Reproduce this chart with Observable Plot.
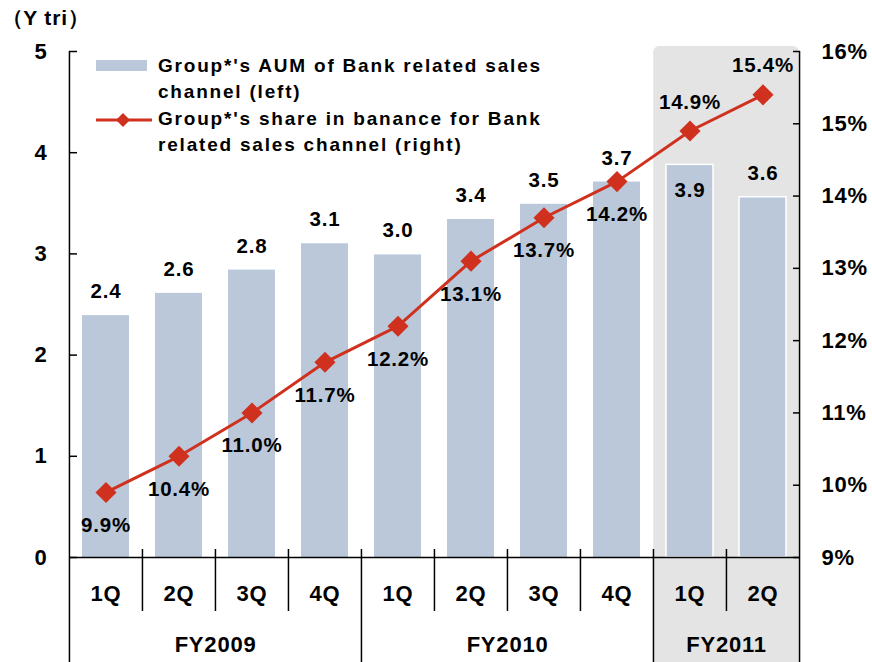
<!DOCTYPE html>
<html><head><meta charset="utf-8">
<script src="https://cdn.jsdelivr.net/npm/d3@7"></script>
<script src="https://cdn.jsdelivr.net/npm/@observablehq/plot@0.6"></script>
<style>
body{margin:0;background:#fff;}
#wrap{position:relative;width:872px;height:662px;font-family:"Liberation Sans",Arial,sans-serif;font-weight:bold;color:#000;}
#legend{position:absolute;left:96px;top:53px;font-size:19px;line-height:26.3px;letter-spacing:1.8px;}
.row{position:relative;padding-left:62px;white-space:nowrap;}
.sw{position:absolute;left:0;}
</style></head><body>
<div id="wrap"></div>
<script>
// ---- data ----
const fiscalYears = ["FY2009", "FY2010", "FY2011"];
const quarters = ["1Q", "2Q", "3Q", "4Q", "1Q", "2Q", "3Q", "4Q", "1Q", "2Q"];
const quarterYear = ["FY2009", "FY2009", "FY2009", "FY2009", "FY2010", "FY2010", "FY2010", "FY2010", "FY2011", "FY2011"];
const aum = [2.39, 2.61, 2.84, 3.10, 2.99, 3.34, 3.49, 3.71, 3.88, 3.56];
const aumLabels = ["2.4", "2.6", "2.8", "3.1", "3.0", "3.4", "3.5", "3.7", "3.9", "3.6"];
const aumLabelSide = ["above", "above", "above", "above", "above", "above", "above", "above", "inside", "above"];
const share = [9.9, 10.4, 11.0, 11.7, 12.2, 13.1, 13.7, 14.2, 14.9, 15.4];
const shareLabelSide = ["below", "below", "below", "below", "below", "below", "below", "below", "above", "above"];
const leftTicks = [0, 1, 2, 3, 4, 5];
const rightTicks = [9, 10, 11, 12, 13, 14, 15, 16];
const highlightYear = "FY2011";
const yUnitLabel = "（Y tri）";
const legendBar = "Group*'s AUM of Bank related sales channel (left)";
const legendLine = "Group*'s share in banance for Bank related sales channel (right)";

// ---- layout ----
const W = 872, H = 662, mL = 69, mR = 72, mT = 51, mB = 105;
const yMax = 5, rMin = 9, rMax = 16;
const n = quarters.length;
const step = (W - mL - mR) / n;
const pxU = (H - mT - mB) / yMax;
const toLeft = p => (p - rMin) / (rMax - rMin) * yMax;
const red = "#d0311f", barFill = "#bac8da", shade = "#e4e4e4";
const fs = 20.5;

const data = quarters.map((q, i) => ({
  key: quarterYear[i] + "-" + q, q, fy: quarterYear[i],
  aum: aum[i], aumLabel: aumLabels[i], aumSide: aumLabelSide[i],
  share: share[i], shareSide: shareLabelSide[i],
  first: i === 0 || quarterYear[i - 1] !== quarterYear[i]
}));
const keys = data.map(d => d.key);

const fyData = fiscalYears.map(fy => {
  const idx = data.map((d, i) => d.fy === fy ? i : -1).filter(i => i >= 0);
  const c = (idx[0] + idx[idx.length - 1]) / 2;
  return {fy, key: keys[Math.floor(c)], frac: c - Math.floor(c)};
});
const hiKeys = data.filter(d => d.fy === highlightYear).map(d => d.key);
const qSep = data.filter(d => !d.first);
const fySep = data.filter((d, i) => d.first && i > 0);

const marks = [
  // highlight shading
  Plot.barY([hiKeys[0]], {
    x: d => d, y1: -(mB + 12) / pxU, y2: yMax + 5 / pxU, fill: shade, rx: 6,
    insetLeft: -step * 0.175, insetRight: -(step * 0.175 + step * (hiKeys.length - 1))
  }),
  // bars
  Plot.barY(data.filter(d => d.fy !== highlightYear), {x: "key", y: "aum", fill: barFill}),
  Plot.barY(data.filter(d => d.fy === highlightYear), {x: "key", y: "aum", fill: barFill, stroke: "white", strokeWidth: 1.5}),
  // baseline
  Plot.ruleY([0], {stroke: "black", strokeWidth: 1.5}),
  // left and right axis lines
  Plot.ruleX([keys[0]], {x: d => d, dx: -step / 2, y1: yMax, y2: -mB / pxU, stroke: "black", strokeWidth: 1.5}),
  Plot.ruleX([keys[n - 1]], {x: d => d, dx: step / 2, y1: yMax, y2: -mB / pxU, stroke: "black", strokeWidth: 1.5}),
  // quarter separators
  Plot.ruleX(qSep, {x: "key", dx: -step / 2, y1: 8 / pxU, y2: -54 / pxU, stroke: "black", strokeWidth: 1.5}),
  // FY separators
  Plot.ruleX(fySep, {x: "key", dx: -step / 2, y1: 8 / pxU, y2: -mB / pxU, stroke: "black", strokeWidth: 1.5}),
  // ticks (inward)
  Plot.tickY(leftTicks, {y: d => d, insetRight: W - mL - mR - 8, stroke: "black", strokeWidth: 1.5}),
  Plot.tickY(rightTicks, {y: d => toLeft(d), insetLeft: W - mL - mR - 7, stroke: "black", strokeWidth: 1.5}),
  // axis labels
  Plot.axisY(leftTicks, {anchor: "left", tickSize: 0, tickPadding: 22, fontSize: 22, label: null, tickFormat: d => String(d)}),
  Plot.axisY(rightTicks.map(toLeft), {anchor: "right", tickSize: 0, tickPadding: 21, fontSize: 22, label: null,
    tickFormat: d => Math.round(d / yMax * (rMax - rMin) + rMin) + "%", textAnchor: "start"}),
  // line + markers
  Plot.line(data, {x: "key", y: d => toLeft(d.share), stroke: red, strokeWidth: 3}),
  Plot.dot(data, {x: "key", y: d => toLeft(d.share), symbol: "diamond2", r: 9.5, fill: red, stroke: null}),
  // value labels
  Plot.text(data.filter(d => d.aumSide === "above"), {x: "key", y: "aum", text: "aumLabel", dy: -24, fontSize: fs, lineAnchor: "middle"}),
  Plot.text(data.filter(d => d.aumSide === "inside"), {x: "key", y: "aum", text: "aumLabel", dy: 26, fontSize: fs, lineAnchor: "middle"}),
  Plot.text(data.filter(d => d.shareSide === "below"), {x: "key", y: d => toLeft(d.share), text: d => d.share.toFixed(1) + "%", dy: 33, fontSize: fs, lineAnchor: "middle"}),
  Plot.text(data.filter(d => d.shareSide === "above"), {x: "key", y: d => toLeft(d.share), text: d => d.share.toFixed(1) + "%", dy: -29, fontSize: fs, lineAnchor: "middle"}),
  // category labels
  Plot.text(data, {x: "key", text: "q", frameAnchor: "bottom", dy: 36, fontSize: 22, lineAnchor: "middle"}),
  // FY labels, one mark per centre offset
  ...[...new Set(fyData.map(d => d.frac))].map(fr =>
    Plot.text(fyData.filter(d => d.frac === fr), {x: "key", dx: fr * step, text: "fy", frameAnchor: "bottom", dy: 87, fontSize: 22, lineAnchor: "middle"})),
  // unit label
  Plot.text([yUnitLabel], {text: d => d, frameAnchor: "top-left", dx: -68, dy: -33, textAnchor: "start", fontSize: 21, lineAnchor: "middle"})
];

const chart = Plot.plot({
  width: W, height: H,
  marginLeft: mL, marginRight: mR, marginTop: mT, marginBottom: mB,
  style: {fontFamily: '"Liberation Sans", Arial, sans-serif', fontWeight: "bold", background: "white", color: "black", overflow: "visible", letterSpacing: "0.8px"},
  x: {type: "band", domain: keys, paddingInner: 0.35, paddingOuter: 0.175, axis: null},
  y: {domain: [0, yMax], axis: null},
  marks
});
const wrap = document.getElementById("wrap");
wrap.appendChild(chart);

// legend (inside plot area)
const barWords = legendBar.split(" ");
const lineWords = legendLine.split(" ");
const legend = document.createElement("div");
legend.id = "legend";
legend.innerHTML = `
<div class="row"><span class="sw" style="top:7px;width:51px;height:11px;background:${barFill}"></span>${barWords.slice(0, 6).join(" ")}</div>
<div class="row">${barWords.slice(6).join(" ")}</div>
<div class="row"><svg class="sw" style="top:1px;left:0" width="58" height="26"><line x1="0" y1="13" x2="56" y2="13" stroke="${red}" stroke-width="3"/><path d="M27,6 L34,13 L27,20 L20,13Z" fill="${red}"/></svg>${lineWords.slice(0, 6).join(" ")}</div>
<div class="row">${lineWords.slice(6).join(" ")}</div>`;
wrap.appendChild(legend);
</script>
</body></html>
